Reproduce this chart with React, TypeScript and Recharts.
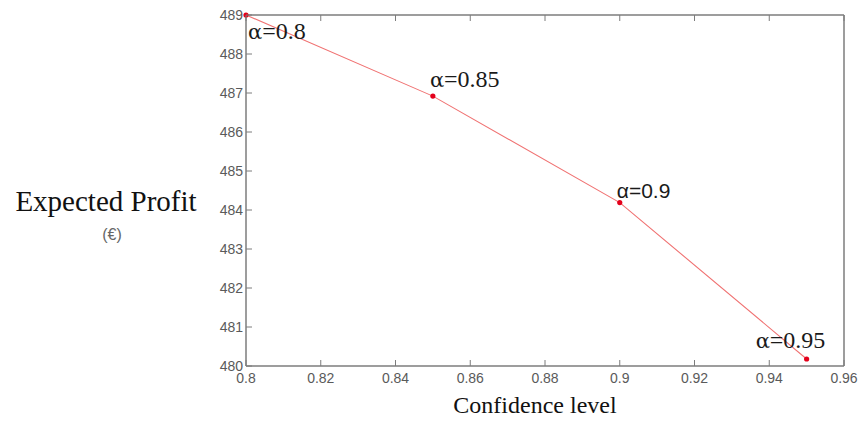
import React from 'react';
import { LineChart, Line, XAxis, YAxis, Label, LabelList } from 'recharts';

// ---- data ----
const confidence = [0.8, 0.85, 0.9, 0.95];
const profit = [489.0, 486.92, 484.19, 480.18];
const alphaLabels = ['α=0.8', 'α=0.85', 'α=0.9', 'α=0.95'];
const xTicks = [0.8, 0.82, 0.84, 0.86, 0.88, 0.9, 0.92, 0.94, 0.96];
const yTicks = [480, 481, 482, 483, 484, 485, 486, 487, 488, 489];

const data = confidence.map((c, i) => ({ c, p: profit[i], label: alphaLabels[i] }));

// ---- label placement (relative to each point) ----
const labelPlacement = [
  { dx: 2, dy: 24, serif: true },
  { dx: -3, dy: -9, serif: true },
  { dx: -3, dy: -5, serif: false },
  { dx: -51, dy: -11, serif: true },
];

const AX = '#7c7c7c';
const TICK_LEN = 6;
const M = 3;
const SERIF = "'Liberation Serif', 'Times New Roman', serif";
const SANS = "'Liberation Sans', Arial, sans-serif";
const TICK_STYLE = { fontFamily: SANS, fontSize: 14, fill: '#5a5a5a' };

const fmtX = (v: number) => Number(v.toFixed(2)).toString();

const LeftTick = (props: any) => {
  const { x, y, payload } = props;
  const ax = x + M;
  return (
    <g>
      <line x1={ax} x2={ax + TICK_LEN} y1={y} y2={y} stroke={AX} strokeWidth={1} />
      <text x={x} y={y + 5} textAnchor="end" style={TICK_STYLE}>{payload.value}</text>
    </g>
  );
};

const RightTick = (props: any) => {
  const { x, y } = props;
  const ax = x - M;
  return <line x1={ax} x2={ax - TICK_LEN} y1={y} y2={y} stroke={AX} strokeWidth={1} />;
};

const BottomTick = (props: any) => {
  const { x, y, payload } = props;
  const ay = y - M;
  return (
    <g>
      <line x1={x} x2={x} y1={ay} y2={ay - TICK_LEN} stroke={AX} strokeWidth={1} />
      <text x={x} y={ay + 17} textAnchor="middle" style={TICK_STYLE}>{fmtX(payload.value)}</text>
    </g>
  );
};

const TopTick = (props: any) => {
  const { x, y } = props;
  const ay = y + M;
  return <line x1={x} x2={x} y1={ay} y2={ay + TICK_LEN} stroke={AX} strokeWidth={1} />;
};

const PointLabel = (props: any) => {
  const { x, y, index, value } = props;
  const pl = labelPlacement[index];
  const str = String(value);
  const head = str.slice(0, 1);
  const rest = str.slice(1);
  if (!pl.serif) {
    return (
      <text x={x + pl.dx} y={y + pl.dy} style={{ fontFamily: SANS, fontSize: 21, fill: '#1a1a1a' }}>
        {str}
      </text>
    );
  }
  return (
    <text x={x + pl.dx} y={y + pl.dy} style={{ fontSize: 24, fill: '#1a1a1a' }}>
      <tspan style={{ fontFamily: "'DejaVu Serif', serif", fontSize: 21 }}>{head}</tspan>
      <tspan style={{ fontFamily: SERIF }}>{rest}</tspan>
    </text>
  );
};

const YTitle = (props: any) => {
  const { viewBox } = props;
  const cx = viewBox.x - 139;
  return (
    <g>
      <text x={cx} y={viewBox.y + 196} textAnchor="middle" style={{ fontFamily: SERIF, fontSize: 29, fill: '#111' }}>
        Expected Profit
      </text>
      <text x={cx + 6} y={viewBox.y + 225} textAnchor="middle" style={{ fontFamily: SANS, fontSize: 16, fill: '#666' }}>
        (€)
      </text>
    </g>
  );
};

const XTitle = (props: any) => {
  const { viewBox } = props;
  return (
    <text x={viewBox.x + 289} y={viewBox.y + 47} textAnchor="middle" style={{ fontFamily: SERIF, fontSize: 24, fill: '#111' }}>
      Confidence level
    </text>
  );
};

export default function App() {
  return (
    <div style={{ position: 'absolute', left: 0, top: 0, width: 858, height: 426, background: '#fff' }}>
      <LineChart width={858} height={426} data={data} margin={{ top: 14, right: 13, bottom: 59, left: 245 }}>
        <XAxis
          xAxisId="b"
          dataKey="c"
          type="number"
          domain={[0.8, 0.96]}
          ticks={xTicks}
          interval={0}
          height={1}
          tickSize={0}
          tickMargin={M}
          tickLine={false}
          tick={<BottomTick />}
          axisLine={{ stroke: AX, strokeWidth: 1.5 }}
        >
          <Label content={<XTitle />} />
        </XAxis>
        <XAxis
          xAxisId="t"
          orientation="top"
          dataKey="c"
          type="number"
          domain={[0.8, 0.96]}
          ticks={xTicks}
          interval={0}
          height={1}
          tickSize={0}
          tickMargin={M}
          tickLine={false}
          tick={<TopTick />}
          axisLine={{ stroke: AX, strokeWidth: 1.5 }}
        />
        <YAxis
          yAxisId="l"
          type="number"
          domain={[480, 489]}
          ticks={yTicks}
          interval={0}
          width={1}
          tickSize={0}
          tickMargin={M}
          tickLine={false}
          tick={<LeftTick />}
          axisLine={{ stroke: AX, strokeWidth: 1.5 }}
        >
          <Label content={<YTitle />} />
        </YAxis>
        <YAxis
          yAxisId="r"
          orientation="right"
          type="number"
          domain={[480, 489]}
          ticks={yTicks}
          interval={0}
          width={1}
          tickSize={0}
          tickMargin={M}
          tickLine={false}
          tick={<RightTick />}
          axisLine={{ stroke: AX, strokeWidth: 1.5 }}
        />
        <Line
          xAxisId="b"
          yAxisId="l"
          dataKey="p"
          type="linear"
          stroke="#f07272"
          strokeWidth={1.1}
          dot={{ r: 2.6, fill: '#e4001b', stroke: 'none' }}
          activeDot={false}
          isAnimationActive={false}
        >
          <LabelList dataKey="label" content={<PointLabel />} />
        </Line>
      </LineChart>
    </div>
  );
}
